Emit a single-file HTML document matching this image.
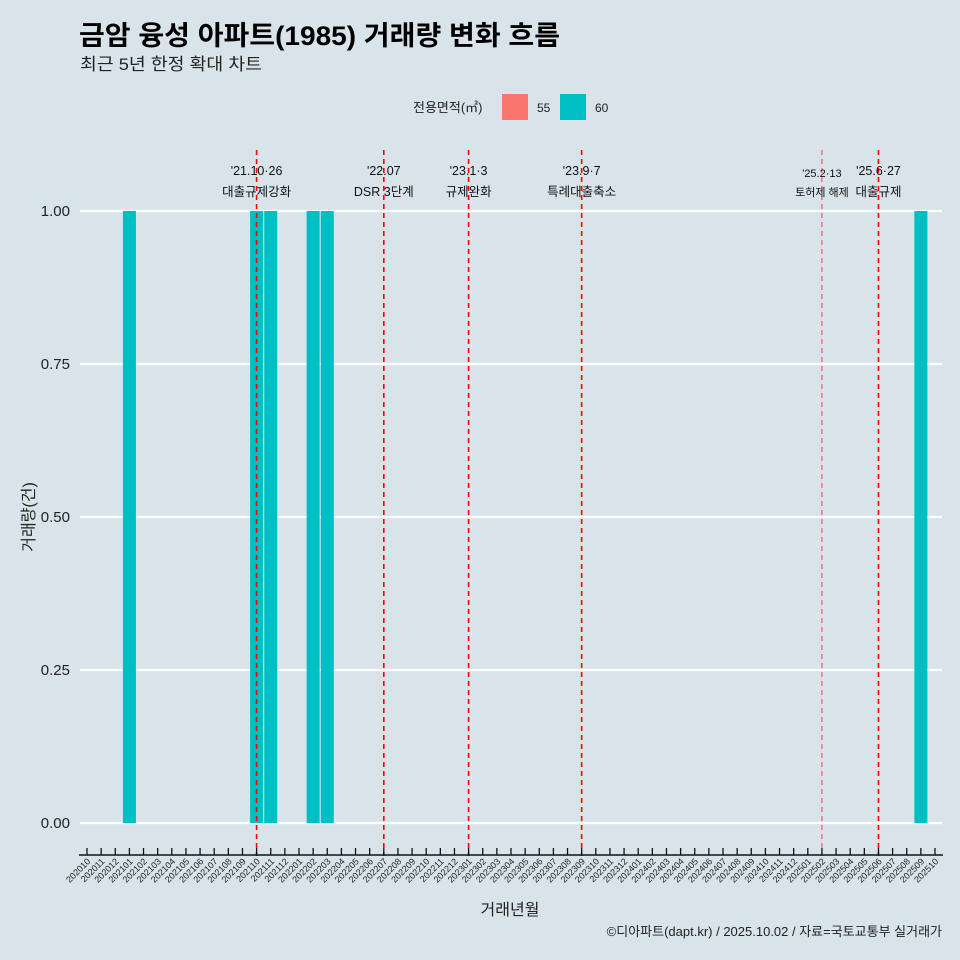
<!DOCTYPE html>
<html><head><meta charset="utf-8">
<style>
html,body{margin:0;padding:0;background:#d8e4ea;overflow:hidden;width:960px;height:960px;}
svg{display:block;}
svg text{font-family:"Liberation Sans","Noto Sans CJK KR",sans-serif;}
</style></head>
<body>
<svg id="chart" width="960" height="960" xmlns="http://www.w3.org/2000/svg">
<rect width="960" height="960" fill="#d8e4ea"/>
<text x="79" y="45" font-size="27" font-weight="bold" fill="#000" textLength="481" lengthAdjust="spacingAndGlyphs">금암 융성 아파트(1985) 거래량 변화 흐름</text>
<text x="80" y="70" font-size="17" fill="#222" textLength="182" lengthAdjust="spacingAndGlyphs">최근 5년 한정 확대 차트</text>
<g>
<text x="413" y="112" font-size="13" fill="#222">전용면적(㎡)</text>
<rect x="502" y="94" width="26" height="26" fill="#f8766d"/>
<text x="537" y="112" font-size="12" fill="#222">55</text>
<rect x="560" y="94" width="26" height="26" fill="#00bfc4"/>
<text x="595" y="112" font-size="12" fill="#222">60</text>
</g>
<g id="grid"></g><g id="bars"></g><g id="events"></g><g id="xaxis"></g><g id="yaxis"></g>
<text x="510" y="915" font-size="16" fill="#222" text-anchor="middle">거래년월</text>
<text transform="translate(34,517) rotate(-90)" font-size="16" fill="#222" text-anchor="middle">거래량(건)</text>
<text x="942" y="936" font-size="13" fill="#222" text-anchor="end">©디아파트(dapt.kr) / 2025.10.02 / 자료=국토교통부 실거래가</text>
</svg>
<script>
const barMonths = ["202101","202110","202111","202202","202203","202509"];
const barValues = [1,1,1,1,1,1];
const yTicks = [0,0.25,0.5,0.75,1.0];
const yTickLabels = ["0.00","0.25","0.50","0.75","1.00"];
const eventMonths = ["202110","202207","202301","202309","202502","202506"];
const eventLine1 = ["'21.10·26","'22.07","'23.1·3","'23.9·7","'25.2·13","'25.6·27"];
const eventLine2 = ["대출규제강화","DSR 3단계","규제완화","특례대출축소","토허제 해제","대출규제"];

const months=[];
for(let y=2020,m=10;;){months.push(""+y+(m<10?"0"+m:m)); if(y===2025&&m===10)break; m++; if(m>12){m=1;y++;}}
const x0=87, step=(935-87)/(months.length-1);
const xPos=k=>x0+months.indexOf(k)*step;
const yPos=v=>823-v*(823-211);
const NS="http://www.w3.org/2000/svg";
function mk(tag,attrs,parent,txt){const e=document.createElementNS(NS,tag);for(const k in attrs)e.setAttribute(k,attrs[k]);if(txt!==undefined)e.textContent=txt;document.getElementById(parent).appendChild(e);return e;}

yTicks.forEach((v,i)=>{
  const g=mk("line",{x1:80,x2:942,y1:yPos(v),y2:yPos(v),stroke:"#fff","stroke-width":2.2},"grid");
  
  
  const t=mk("text",{x:70,y:yPos(v)+5,"font-size":15,"text-anchor":"end",fill:"#222"},"yaxis",yTickLabels[i]);
  
  
});
const bw=step*0.92;
barMonths.forEach((mo,i)=>{
  const r=mk("rect",{x:xPos(mo)-bw/2,y:yPos(barValues[i]),width:bw,height:yPos(0)-yPos(barValues[i]),fill:"#00bfc4"},"bars");
  
  
});
eventMonths.forEach((mo,i)=>{
  const x=xPos(mo), thin=mo==="202502";
  const l=mk("line",{x1:x,x2:x,y1:150,y2:856,stroke:"#ff0000","stroke-width":thin?1:1.6,"stroke-dasharray":"5,4",opacity:thin?0.7:1},"events");
  
  
  const fs=thin?11:12.5;
  const t1=mk("text",{x:x,y:thin?177:175,"font-size":fs,"text-anchor":"middle",fill:"#111"},"events",eventLine1[i]);
  
  
  const t2=mk("text",{x:x,y:196,"font-size":fs,"text-anchor":"middle",fill:"#111"},"events",eventLine2[i]);
  
  
});
const ax=mk("line",{x1:79,x2:943,y1:855,y2:855,stroke:"#111","stroke-width":1.5},"xaxis");


months.forEach((mo,i)=>{
  const x=x0+i*step;
  const tk=mk("line",{x1:x,x2:x,y1:848,y2:855,stroke:"#111","stroke-width":1.3},"xaxis");
  
  
  const t=mk("text",{transform:`translate(${x+4},${862}) rotate(-45)`,"font-size":9,"text-anchor":"end",fill:"#222"},"xaxis",mo);
  
  
});
</script>
</body></html>
